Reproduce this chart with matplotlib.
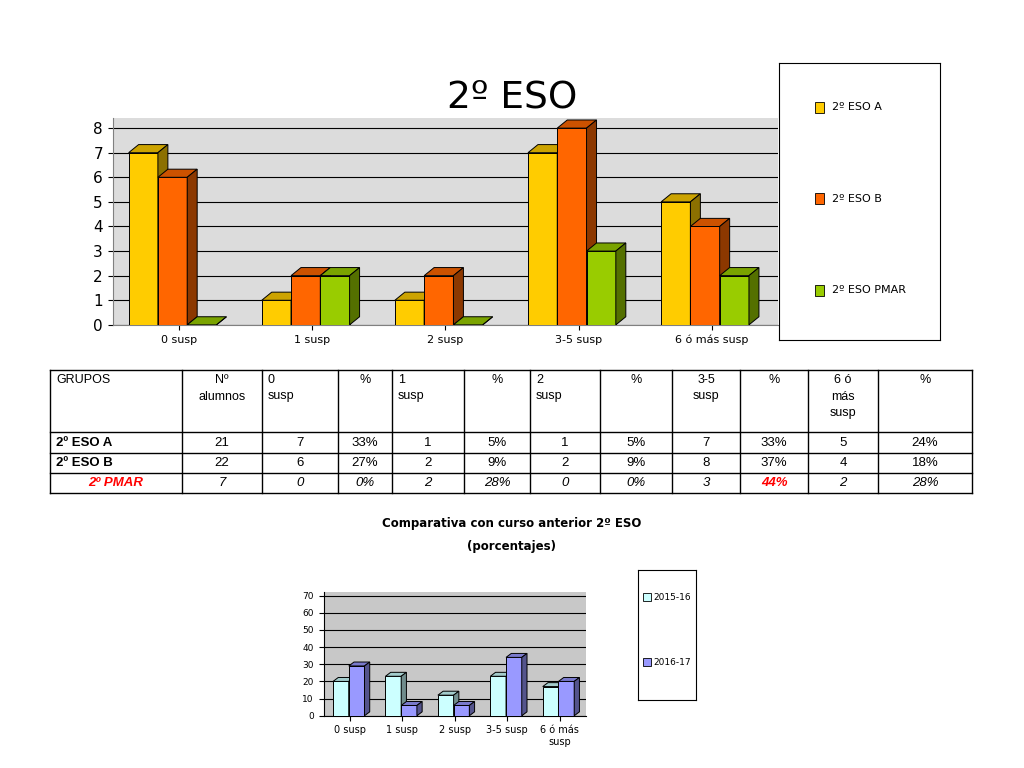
import matplotlib
matplotlib.use("Agg")
import matplotlib.pyplot as plt
from matplotlib.patches import Polygon, Rectangle

# ---- data ----
categories = ["0 susp", "1 susp", "2 susp", "3-5 susp", "6 ó más susp"]
eso_a = [7, 1, 1, 7, 5]
eso_b = [6, 2, 2, 8, 4]
eso_pmar = [0, 2, 0, 3, 2]
series_top = ["2º ESO A", "2º ESO B", "2º ESO PMAR"]

cat_bottom = ["0 susp", "1 susp", "2 susp", "3-5 susp", "6 ó más\nsusp"]
pct_1516 = [20, 23, 12, 23, 17]
pct_1617 = [29, 6, 6, 34, 20]
series_bottom = ["2015-16", "2016-17"]

table_header = ["GRUPOS", "Nº\nalumnos", "0\nsusp", "%", "1\nsusp", "%", "2\nsusp", "%",
                "3-5\nsusp", "%", "6 ó\nmás\nsusp", "%"]
table_rows = [
    ["2º ESO A", "21", "7", "33%", "1", "5%", "1", "5%", "7", "33%", "5", "24%"],
    ["2º ESO B", "22", "6", "27%", "2", "9%", "2", "9%", "8", "37%", "4", "18%"],
    ["2º PMAR", "7", "0", "0%", "2", "28%", "0", "0%", "3", "44%", "2", "28%"],
]


def darker(c, f=0.55):
    r, g, b = matplotlib.colors.to_rgb(c)
    return (r * f, g * f, b * f)


def bar3d(ax, x0, w, h, dx, dy, color):
    ax.add_patch(Rectangle((x0, 0), w, h, fc=color, ec="black", lw=0.7, zorder=3))
    ax.add_patch(Polygon([(x0, h), (x0 + w, h), (x0 + w + dx, h + dy), (x0 + dx, h + dy)],
                         fc=darker(color, 0.8), ec="black", lw=0.7, zorder=3))
    ax.add_patch(Polygon([(x0 + w, 0), (x0 + w + dx, dy), (x0 + w + dx, h + dy), (x0 + w, h)],
                         fc=darker(color), ec="black", lw=0.7, zorder=3))


fig = plt.figure(figsize=(10.24, 7.68), dpi=100)

# ---- top chart ----
ax = fig.add_axes([0.110, 0.577, 0.650, 0.269])
ax.set_facecolor("#dcdcdc")
cols_top = ["#ffcc00", "#ff6600", "#99cc00"]
w = 0.22
for i, c in enumerate(categories):
    for j, vals in enumerate([eso_a, eso_b, eso_pmar]):
        bar3d(ax, i - 0.38 + j * w, w, vals[i], 0.075, 0.33, cols_top[j])
ax.set_xlim(-0.5, 4.5)
ax.set_ylim(0, 8.4)
ax.set_yticks(range(9))
ax.yaxis.grid(True, color="black", lw=0.8, zorder=0)
ax.set_axisbelow(True)
ax.set_xticks(range(5))
ax.set_xticklabels(categories, fontsize=8)
ax.tick_params(axis="y", labelsize=11)
for s in ["top", "right"]:
    ax.spines[s].set_visible(False)
ax.spines["left"].set_color("gray")
ax.spines["bottom"].set_color("gray")
fig.text(0.5, 0.873, "2º ESO", ha="center", va="center", fontsize=27)

lax = fig.add_axes([0.761, 0.557, 0.157, 0.361])
lax.set_xticks([]); lax.set_yticks([])
for j, (name, c) in enumerate(zip(series_top, cols_top)):
    yy = 0.84 - j * 0.33
    lax.add_patch(Rectangle((0.22, yy - 0.02), 0.06, 0.04, fc=c, ec="black", lw=0.6,
                            transform=lax.transAxes))
    lax.text(0.33, yy, name, fontsize=8, va="center", transform=lax.transAxes)

# ---- table ----
tax = fig.add_axes([0, 0, 1, 1], zorder=-1)
tax.set_xlim(0, 1024); tax.set_ylim(768, 0); tax.axis("off")
xb = [50, 182, 262, 338, 392, 464, 530, 600, 672, 740, 808, 878, 972]
yb = [370, 432, 453, 473, 493]
for x in xb:
    tax.plot([x, x], [yb[0], yb[-1]], color="black", lw=1)
for y in yb:
    tax.plot([xb[0], xb[-1]], [y, y], color="black", lw=1)
for k, htxt in enumerate(table_header):
    x0, x1 = xb[k], xb[k + 1]
    if k in (0, 2, 4, 6):
        tax.text(x0 + 6, yb[0] + 4, htxt, fontsize=9, va="top", ha="left", family="Liberation Sans",
                 linespacing=1.5)
    else:
        tax.text((x0 + x1) / 2, yb[0] + 4, htxt, fontsize=9, va="top", ha="center",
                 family="Liberation Sans", linespacing=1.5)
for r, row in enumerate(table_rows):
    yc = (yb[r + 1] + yb[r + 2]) / 2
    pmar = r == 2
    for k, v in enumerate(row):
        x0, x1 = xb[k], xb[k + 1]
        color = "red" if pmar and (k == 0 or k == 9) else "black"
        style = "italic" if pmar else "normal"
        weight = "bold" if k == 0 or (pmar and k == 9) else "normal"
        if k == 0 and not pmar:
            tax.text(x0 + 6, yc, v, fontsize=9.5, va="center", ha="left", weight=weight,
                     family="Liberation Sans")
        else:
            tax.text((x0 + x1) / 2, yc, v, fontsize=9.5, va="center", ha="center",
                     color=color, style=style, weight=weight, family="Liberation Sans")

# ---- bottom chart ----
fig.text(0.5, 0.314, "Comparativa con curso anterior 2º ESO", ha="center", fontsize=8.5,
         weight="bold")
fig.text(0.5, 0.284, "(porcentajes)", ha="center", fontsize=8.5, weight="bold")
bx = fig.add_axes([0.316, 0.068, 0.256, 0.161])
bx.set_facecolor("#c8c8c8")
cols_bot = ["#ccffff", "#9999ff"]
wb = 0.3
for i in range(len(cat_bottom)):
    for j, vals in enumerate([pct_1516, pct_1617]):
        bar3d(bx, i - 0.32 + j * wb, wb, vals[i], 0.1, 2.3, cols_bot[j])
bx.set_xlim(-0.5, 4.5)
bx.set_ylim(0, 72)
bx.set_yticks(range(0, 71, 10))
bx.yaxis.grid(True, color="black", lw=0.8)
bx.set_axisbelow(True)
bx.set_xticks(range(5))
bx.set_xticklabels(cat_bottom, fontsize=7)
bx.tick_params(axis="y", labelsize=6.5)
for s in ["top", "right"]:
    bx.spines[s].set_visible(False)

lbx = fig.add_axes([0.623, 0.089, 0.057, 0.169])
lbx.set_xticks([]); lbx.set_yticks([])
for j, (name, c) in enumerate(zip(series_bottom, cols_bot)):
    yy = 0.79 - j * 0.5
    lbx.add_patch(Rectangle((0.08, yy - 0.03), 0.14, 0.06, fc=c, ec="black", lw=0.6,
                            transform=lbx.transAxes))
    lbx.text(0.27, yy, name, fontsize=6.5, va="center", transform=lbx.transAxes)

fig.savefig("out.png", dpi=100)
